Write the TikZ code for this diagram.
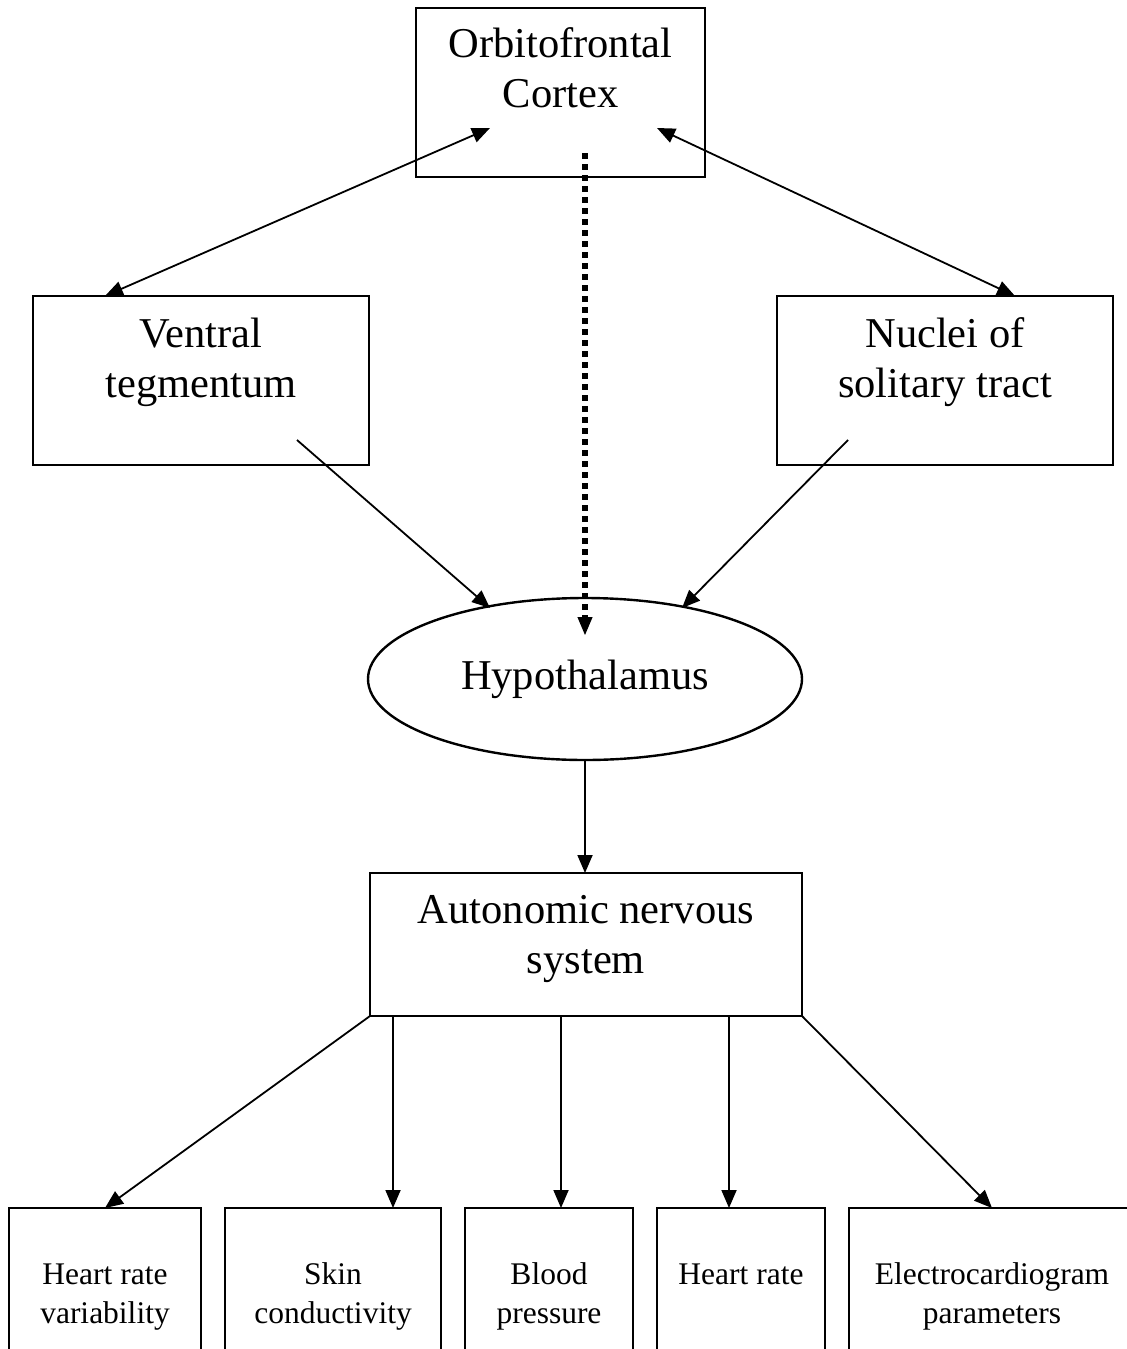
\documentclass[tikz,border=0pt]{standalone}
\usepackage{fontspec}
\setmainfont{Liberation Serif}
\usepackage{tikz}
\usetikzlibrary{arrows.meta,positioning,shapes.geometric,calc}
\tikzset{
  >={Triangle[length=9pt,width=7.5pt]},
  link/.style={->,line width=0.9pt},
  duallink/.style={<->,line width=0.9pt},
  dotlink/.style={-{Triangle[length=9pt,width=7.5pt,line width=0.5pt]},line width=3pt,
    dash pattern=on 3.2pt off 2.3pt},
  bigbox/.style={draw,line width=1.2pt,inner sep=0pt,outer sep=0pt,anchor=north,
    align=flush center,font=\fontsize{21.25}{25}\selectfont,text height=25pt},
  smallbox/.style={bigbox,font=\fontsize{15.75}{19.5}\selectfont,
    text height=38pt,text depth=62pt},
  oval/.style={ellipse,draw,line width=1.2pt,inner sep=0pt,outer sep=0pt,
    minimum width=217pt,minimum height=81pt,font=\fontsize{21.25}{25}\selectfont}
}
\begin{document}
\begin{tikzpicture}[x=1pt,y=-1pt,node distance=12pt]
  \useasboundingbox (0,0) rectangle (563.5,674.5);
  \clip (0,0) rectangle (563.5,674.5);
  % upper part
  \node[bigbox,text width=144.5pt,text height=24.5pt,text depth=60pt] (ofc) at (280.25,4) {Orbitofrontal\\Cortex};
  \node[bigbox,text width=168pt,text height=25.5pt,text depth=59pt] (vt) at (100.5,148) {Ventral\\tegmentum};
  \node[bigbox,text width=168pt,text height=25.5pt,text depth=59pt] (nst) at (472.5,148) {Nuclei of\\solitary tract};
  \node[oval] (hyp) at (292.5,339.5) {Hypothalamus};
  \node[bigbox,text width=216pt,text depth=46.5pt] (ans) at (293,436.5) {Autonomic nervous\\system};
  % measured signals
  \node[smallbox,text width=96pt] (hrv) at (52.5,604) {Heart rate\\variability};
  \node[smallbox,text width=108pt,right=of hrv] (skin) {Skin\\conductivity};
  \node[smallbox,text width=84pt,right=of skin] (bp) {Blood\\pressure};
  \node[smallbox,text width=84pt,right=of bp] (hr) {Heart rate};
  \node[smallbox,text width=143pt,right=of hr] (ecg) {Electrocardiogram\\parameters};
  % arrow ends
  \coordinate (ofcL) at ($(ofc.south west)+(37,-24.5)$);
  \coordinate (ofcR) at ($(ofc.south east)+(-24,-24.5)$);
  \coordinate (vtT) at ($(vt.north west)+(36,0)$);
  \coordinate (nstT) at ($(nst.north east)+(-49,0)$);
  \coordinate (vtB) at ($(vt.south east)+(-36,-12.5)$);
  \coordinate (nstB) at ($(nst.south west)+(35.5,-12.5)$);
  \coordinate (hypL) at ($(hyp.center)+(-47.5,-35.5)$);
  \coordinate (hypR) at ($(hyp.center)+(48.5,-35.5)$);
  \coordinate (hypT) at ($(hyp.center)+(0,-22)$);
  \coordinate (dotS) at ($(hyp.center |- ofc.south)+(0,-12)$);
  \coordinate (skinS) at ($(ans.south west)+(11.5,0)$);
  \coordinate (bpS) at ($(ans.south west)+(95.5,0)$);
  \coordinate (hrS) at ($(ans.south west)+(179.5,0)$);
  \draw[duallink] (ofcL) -- (vtT);
  \draw[duallink] (ofcR) -- (nstT);
  \draw[dotlink] (dotS) -- (hypT);
  \draw[link] (vtB) -- (hypL);
  \draw[link] (nstB) -- (hypR);
  \draw[link] (hyp.south) -- (hyp.south |- ans.north);
  \draw[link] (ans.south west) -- (hrv.north);
  \draw[link] (skinS) -- (skinS |- skin.north);
  \draw[link] (bpS) -- (bpS |- bp.north);
  \draw[link] (hrS) -- (hrS |- hr.north);
  \draw[link] (ans.south east) -- (ecg.north);
\end{tikzpicture}
\end{document}
